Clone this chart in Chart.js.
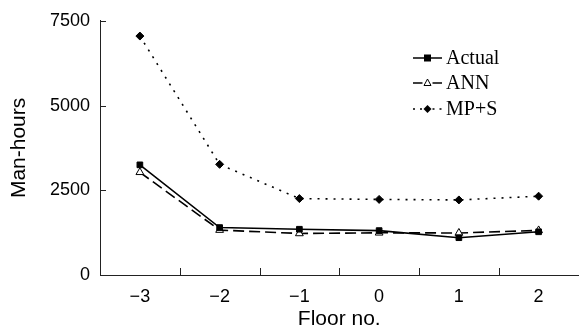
<!DOCTYPE html>
<html>
<head>
<meta charset="utf-8">
<script src="https://cdn.jsdelivr.net/npm/chart.js@4/dist/chart.umd.min.js"></script>
<style>
html,body{margin:0;padding:0;background:#fff;}
canvas{display:block;}
</style>
</head>
<body>
<canvas id="c" width="584" height="334"></canvas>
<script>
const floors = ['\u22123', '\u22122', '\u22121', '0', '1', '2'];
const actual = [3250, 1400, 1350, 1310, 1100, 1275];
const ann = [3030, 1325, 1225, 1245, 1240, 1315];
const mps = [7050, 3265, 2255, 2230, 2215, 2325];
const yTicks = [0, 2500, 5000, 7500];
const seriesNames = ['Actual', 'ANN', 'MP+S'];

const inwardTicks = {
  id: 'inwardTicks',
  afterDraw(chart) {
    const ctx = chart.ctx;
    const xs = chart.scales.x, ys = chart.scales.y;
    ctx.save();
    ctx.strokeStyle = '#222';
    ctx.lineWidth = 1;
    ctx.beginPath();
    yTicks.forEach(v => {
      if (v === 0) return;
      const y = Math.round(ys.getPixelForValue(v)) + 0.5;
      ctx.moveTo(xs.left, y); ctx.lineTo(xs.left + 6, y);
    });
    for (let i = 0; i < floors.length - 1; i++) {
      const x = Math.round((xs.getPixelForValue(i) + xs.getPixelForValue(i + 1)) / 2) + 0.5;
      ctx.moveTo(x, ys.bottom); ctx.lineTo(x, ys.bottom - 7);
    }
    ctx.stroke();
    ctx.restore();
  }
};

const customLegend = {
  id: 'customLegend',
  afterDraw(chart) {
    const ctx = chart.ctx;
    const x0 = 413, x1 = 442, xm = (x0 + x1) / 2;
    const rows = [58, 83, 109];
    ctx.save();
    ctx.fillStyle = '#000';
    ctx.strokeStyle = '#000';
    ctx.font = '20px "Liberation Serif", "Times New Roman", serif';
    ctx.textBaseline = 'middle';
    rows.forEach((y, i) => {
      ctx.lineWidth = 1.5;
      ctx.setLineDash([]);
      ctx.beginPath();
      if (i === 0) {
        ctx.moveTo(x0, y); ctx.lineTo(x1, y); ctx.stroke();
        ctx.fillRect(xm - 3.5, y - 3.5, 7, 7);
      } else if (i === 1) {
        ctx.moveTo(x0, y); ctx.lineTo(xm - 5, y);
        ctx.moveTo(xm + 5, y); ctx.lineTo(x1, y);
        ctx.stroke();
        ctx.lineWidth = 1;
        ctx.beginPath();
        ctx.moveTo(xm, y - 4); ctx.lineTo(xm + 3.5, y + 2.5); ctx.lineTo(xm - 3.5, y + 2.5); ctx.closePath();
        ctx.fillStyle = '#fff'; ctx.fill(); ctx.stroke();
        ctx.fillStyle = '#000';
      } else {
        ctx.setLineDash([2, 5]);
        ctx.moveTo(x0, y); ctx.lineTo(xm - 5, y);
        ctx.moveTo(xm + 5, y); ctx.lineTo(x1, y);
        ctx.stroke();
        ctx.setLineDash([]);
        ctx.beginPath();
        ctx.moveTo(xm, y - 4); ctx.lineTo(xm + 4, y); ctx.lineTo(xm, y + 4); ctx.lineTo(xm - 4, y); ctx.closePath();
        ctx.fill();
      }
      ctx.fillText(seriesNames[i], 446, y + 1);
    });
    ctx.restore();
  }
};

new Chart(document.getElementById('c'), {
  type: 'line',
  data: {
    labels: floors,
    datasets: [
      {
        label: seriesNames[0], data: actual,
        borderColor: '#000', backgroundColor: '#000', borderWidth: 1.6,
        pointStyle: 'rect', pointRadius: 4, pointBackgroundColor: '#000', pointBorderColor: '#000', pointBorderWidth: 1,
        tension: 0
      },
      {
        label: seriesNames[1], data: ann,
        borderColor: '#000', backgroundColor: '#fff', borderWidth: 1.6, borderDash: [11, 5],
        pointStyle: 'triangle', pointRadius: 4.5, pointBackgroundColor: '#fff', pointBorderColor: '#000', pointBorderWidth: 1,
        tension: 0
      },
      {
        label: seriesNames[2], data: mps,
        borderColor: '#000', backgroundColor: '#000', borderWidth: 1.6, borderDash: [2, 6],
        pointStyle: 'rectRot', pointRadius: 4, pointBackgroundColor: '#000', pointBorderColor: '#000', pointBorderWidth: 1,
        tension: 0
      }
    ]
  },
  options: {
    responsive: false,
    animation: false,
    layout: { padding: { top: 20, right: 0, left: 0, bottom: 0 } },
    plugins: { legend: { display: false }, tooltip: { enabled: false } },
    scales: {
      x: {
        offset: true,
        grid: { display: true, drawOnChartArea: false, drawTicks: false, offset: true },
        border: { display: true, color: '#222', width: 1 },
        ticks: { color: '#000', padding: 11, font: { family: '"Liberation Sans", Arial, sans-serif', size: 18 }, maxRotation: 0 },
        title: { display: true, text: 'Floor no.', color: '#000', padding: { top: 0, bottom: 2 }, font: { family: '"Liberation Sans", Arial, sans-serif', size: 21 } },
        afterFit(s) { s.height = 59; }
      },
      y: {
        min: 0, max: 7500,
        afterBuildTicks(s) { s.ticks = yTicks.map(v => ({ value: v })); },
        grid: { display: true, drawOnChartArea: false, drawTicks: false },
        border: { display: true, color: '#222', width: 1 },
        ticks: { color: '#000', padding: 10, font: { family: '"Liberation Sans", Arial, sans-serif', size: 18 }, callback: v => String(v) },
        title: { display: true, text: 'Man-hours', color: '#000', padding: { top: 7, bottom: 0 }, font: { family: '"Liberation Sans", Arial, sans-serif', size: 21 } },
        afterFit(s) { s.width = 100; }
      }
    }
  },
  plugins: [inwardTicks, customLegend]
});
</script>
</body>
</html>
